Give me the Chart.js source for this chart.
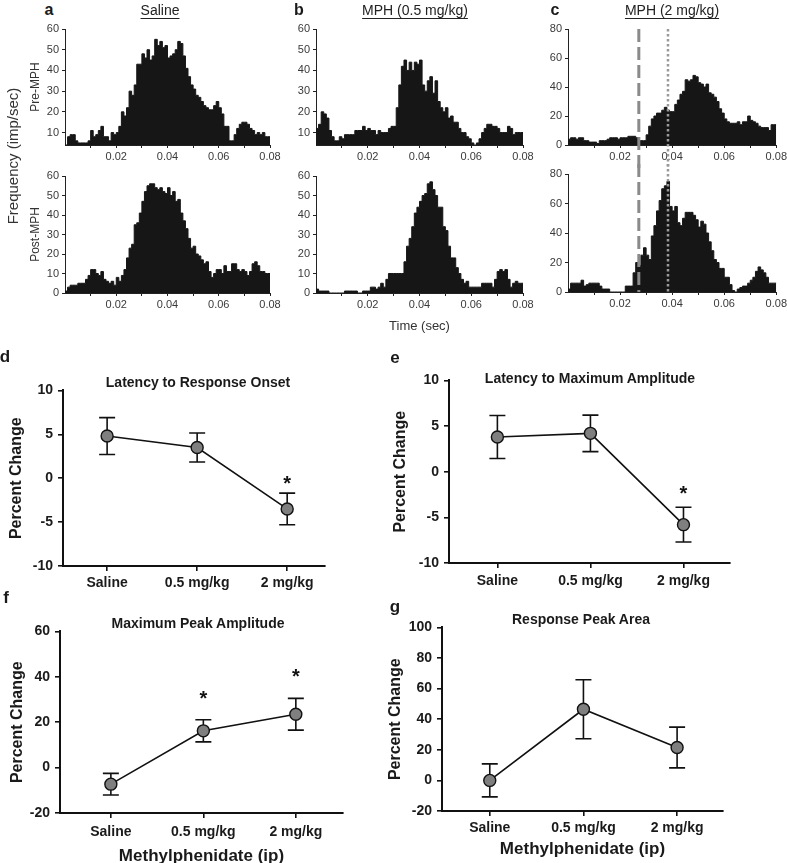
<!DOCTYPE html>
<html>
<head>
<meta charset="utf-8">
<script src="https://cdn.jsdelivr.net/npm/chart.js@4.4.1/dist/chart.umd.min.js"></script>
<style>
  html, body { margin: 0; padding: 0; background: #fff; overflow: hidden; width: 787px; height: 863px; }
  body { position: relative; font-family: 'Liberation Sans', Arial, sans-serif; }
  canvas { position: absolute; }
  .t { position: absolute; white-space: nowrap; line-height: 1; transform: translate(-50%, -50%); }
  .letter { font-weight: bold; font-size: 16px; color: #1a1a1a; }
  .head { font-size: 14px; color: #222; text-decoration: underline; text-underline-offset: 3px; }
  .ptitle { font-weight: bold; font-size: 14px; color: #1a1a1a; }
</style>
</head>
<body>

<canvas id="aPre" width="284" height="150" style="left:0px;top:19px"></canvas>
<canvas id="aPost" width="284" height="151" style="left:0px;top:166px"></canvas>
<canvas id="bPre" width="261" height="150" style="left:276px;top:19px"></canvas>
<canvas id="bPost" width="261" height="169" style="left:276px;top:166px"></canvas>
<canvas id="cPre" width="261" height="150" style="left:528px;top:19px"></canvas>
<canvas id="cPost" width="261" height="152" style="left:528px;top:164px"></canvas>

<canvas id="dChart" width="335" height="219" style="left:0px;top:377px"></canvas>
<canvas id="eChart" width="350" height="226" style="left:390px;top:367px"></canvas>
<canvas id="fChart" width="353" height="252" style="left:0px;top:618px"></canvas>
<canvas id="gChart" width="353" height="249" style="left:380px;top:614px"></canvas>

<div class="t letter" style="left:49px;top:10px">a</div>
<div class="t head" style="left:160px;top:10px">Saline</div>
<div class="t letter" style="left:299px;top:10px">b</div>
<div class="t head" style="left:415px;top:10px">MPH (0.5 mg/kg)</div>
<div class="t letter" style="left:555px;top:10px">c</div>
<div class="t head" style="left:672px;top:10px">MPH (2 mg/kg)</div>
<div class="t" style="left:12px;top:156px;font-size:15px;color:#333;transform:translate(-50%,-50%) rotate(-90deg)">Frequency (imp/sec)</div>

<div class="t letter" style="left:5px;top:356px;font-size:17px">d</div>
<div class="t ptitle" style="left:198px;top:382px">Latency to Response Onset</div>
<div class="t letter" style="left:395px;top:357px;font-size:17px">e</div>
<div class="t ptitle" style="left:590px;top:378px">Latency to Maximum Amplitude</div>
<div class="t letter" style="left:6px;top:597px;font-size:17px">f</div>
<div class="t ptitle" style="left:198px;top:623px">Maximum Peak Amplitude</div>
<div class="t letter" style="left:395px;top:606px;font-size:17px">g</div>
<div class="t ptitle" style="left:581px;top:619px">Response Peak Area</div>

<script>
// PSTH bins, 1 ms each, 0 - 80 ms (imp/sec)
const binWidth = 0.001;
const preSaline = [5,4,8,9,9,6,5,5,5,5, 6,11,8,9,11,13,8,8,6,10, 9,10,13,20,18,22,30,28,33,43,
  43,48,46,50,45,47,55,52,54,51, 52,46,47,48,50,54,53,47,41,37, 33,31,28,27,25,23,22,21,21,23,
  25,22,19,13,13,6,6,9,12,14, 15,15,14,12,11,9,10,9,10,8];
const postSaline = [0,1,3,4,4,4,5,5,5,7, 9,12,12,10,9,11,7,6,5,6, 4,8,6,9,12,18,23,25,35,36,
  41,47,52,55,56,56,54,53,54,52, 51,54,50,52,47,48,41,37,33,28, 23,24,20,19,17,15,16,11,8,10,
  12,12,10,14,11,11,15,15,12,11, 12,11,9,11,15,16,14,11,11,10];
const preMph05 = [8,12,14,20,19,17,11,8,6,6, 8,7,9,9,9,9,11,11,11,13, 11,12,11,11,9,11,10,10,10,12,
  13,13,22,33,42,45,40,44,40,44, 43,45,33,30,35,37,29,35,25,22, 20,22,17,18,15,15,12,10,10,8,
  7,5,4,5,7,10,12,14,14,13, 13,12,10,10,10,13,12,9,10,10];
const postMph05 = [2,2,1,1,1,1,0,0,0,0, 0,0,1,1,1,1,1,0,0,1, 1,1,3,3,2,3,5,3,7,10,
  10,10,10,10,10,16,24,28,34,41, 44,47,50,51,56,57,53,50,44,44, 34,32,24,18,18,13,10,7,5,6,
  3,3,3,3,3,5,5,5,5,3, 7,11,12,11,12,7,3,5,6,5];
const preMph2 = [4,4,5,5,4,5,5,3,3,2, 2,2,1,3,3,3,4,5,5,5, 4,5,5,5,6,6,6,5,3,3,
  3,7,13,18,20,22,22,24,26,24, 23,23,28,31,35,37,45,44,45,48, 47,43,42,40,42,36,35,33,30,25,
  22,18,16,15,15,15,16,14,16,16, 20,17,16,15,13,12,12,12,10,14];
const postMph2 = [4,2,6,6,6,6,8,4,5,6, 6,6,6,4,2,2,2,0,0,0, 0,0,0,4,4,4,13,20,18,25,
  30,25,22,38,45,55,62,70,72,75, 58,55,58,47,45,50,54,54,54,52, 49,44,48,46,40,34,28,22,20,16,
  16,10,10,5,1,0,2,3,4,4, 6,8,10,14,17,15,13,10,6,6];

// response onset (dashed) and peak (dotted) latency, sec
const latencyMarks = [0.0272, 0.0384];

const timeTicks = [0.01, 0.02, 0.03, 0.04, 0.05, 0.06, 0.07, 0.08];
const timeTickLabels = ['', '0.02', '', '0.04', '', '0.06', '', '0.08'];
const preTicks = [10, 20, 30, 40, 50, 60];
const postTicks = [0, 10, 20, 30, 40, 50, 60];
const highTicks = [0, 20, 40, 60, 80];

// dose response, percent change (mean, sem)
const doses = ['Saline', '0.5 mg/kg', '2 mg/kg'];
const onsetMean = [4.8, 3.5, -3.5];
const onsetErr = [2.1, 1.65, 1.8];
const onsetSig = [false, false, true];
const maxLatMean = [3.8, 4.2, -5.8];
const maxLatErr = [2.35, 2.0, 1.9];
const maxLatSig = [false, false, true];
const peakAmpMean = [-7.3, 16.2, 23.5];
const peakAmpErr = [4.75, 4.85, 7.0];
const peakAmpSig = [false, true, true];
const peakAreaMean = [0, 46.5, 21.5];
const peakAreaErr = [10.8, 19.3, 13.3];
const peakAreaSig = [false, false, false];
const onsetTicks = [-10, -5, 0, 5, 10];
const ampTicks = [-20, 0, 20, 40, 60];
const areaTicks = [-20, 0, 20, 40, 60, 80, 100];

Chart.defaults.font.family = "'Liberation Sans', Arial, sans-serif";
const barColor = '#161616';
const histText = '#3a3a3a';
const darkText = '#1a1a1a';

function histPoints(vals) {
  const pts = vals.map((v, i) => ({ x: i * binWidth, y: v }));
  pts.push({ x: vals.length * binWidth, y: vals[vals.length - 1] });
  return pts;
}

function latencyLines(span) {
  return {
    id: 'latencyLines',
    afterDatasetsDraw(chart) {
      const { ctx, chartArea, scales: { x } } = chart;
      const top = span === 'down' ? chartArea.top : 0;
      const bottom = span === 'down' ? chart.height : chartArea.bottom;
      ctx.save();
      latencyMarks.forEach((t, i) => {
        const px = x.getPixelForValue(t);
        ctx.beginPath();
        if (i === 0) { ctx.strokeStyle = '#8a8a8a'; ctx.lineWidth = 3; ctx.setLineDash([13, 5]); }
        else { ctx.strokeStyle = '#9a9a9a'; ctx.lineWidth = 2.5; ctx.setLineDash([2.5, 2.5]); }
        ctx.moveTo(px, top);
        ctx.lineTo(px, bottom);
        ctx.stroke();
      });
      ctx.restore();
    }
  };
}

function makeHist(id, values, cfg) {
  const plugins = cfg.lines ? [latencyLines(cfg.lines)] : [];
  return new Chart(document.getElementById(id), {
    type: 'line',
    data: {
      datasets: [{
        data: histPoints(values), stepped: 'after', fill: 'origin',
        backgroundColor: barColor, borderColor: barColor, borderWidth: 1, pointRadius: 0
      }]
    },
    options: {
      responsive: false, animation: false, events: [],
      layout: { padding: { top: 10, right: cfg.padRight || 14, left: 0, bottom: 0 } },
      plugins: { legend: { display: false }, tooltip: { enabled: false } },
      scales: {
        x: {
          type: 'linear', min: 0, max: 0.08,
          afterBuildTicks: s => { s.ticks = timeTicks.map(v => ({ value: v })); },
          ticks: { autoSkip: false, maxRotation: 0, padding: 2, color: histText, font: { size: 11 },
            callback: (v, i) => timeTickLabels[i] },
          grid: { drawOnChartArea: false, tickLength: 3, color: '#222' },
          border: { color: '#222', width: 1 },
          title: cfg.xTitle
            ? { display: true, text: cfg.xTitle, color: '#333', font: { size: 13 }, padding: { top: 0, bottom: 1 } }
            : { display: false },
          afterFit: s => { s.height = cfg.H; }
        },
        y: {
          min: cfg.yMin, max: cfg.yMax,
          afterBuildTicks: s => { s.ticks = cfg.yTicks.map(v => ({ value: v })); },
          ticks: { padding: 3, color: histText, font: { size: 11 } },
          grid: { drawOnChartArea: false, tickLength: 3, color: '#222' },
          border: { color: '#222', width: 1 },
          title: cfg.yTitle
            ? { display: true, text: cfg.yTitle, color: '#333', font: { size: 12 }, padding: { top: 28, bottom: 0 } }
            : { display: false },
          afterFit: s => { s.width = cfg.W; }
        }
      }
    },
    plugins
  });
}

makeHist('aPre', preSaline, { yMin: 4, yMax: 60, yTicks: preTicks, W: 65, H: 24, yTitle: 'Pre-MPH' });
makeHist('aPost', postSaline, { yMin: 0, yMax: 60, yTicks: postTicks, W: 65, H: 24, yTitle: 'Post-MPH' });
makeHist('bPre', preMph05, { yMin: 4, yMax: 60, yTicks: preTicks, W: 40, H: 24 });
makeHist('bPost', postMph05, { yMin: 0, yMax: 60, yTicks: postTicks, W: 40, H: 42, xTitle: 'Time (sec)' });
makeHist('cPre', preMph2, { yMin: 0, yMax: 80, yTicks: highTicks, W: 40, H: 24, padRight: 12, lines: 'down' });
makeHist('cPost', postMph2, { yMin: 0, yMax: 80, yTicks: highTicks, W: 40, H: 24, padRight: 12, lines: 'up' });

const errorBars = {
  id: 'errorBars',
  beforeDatasetsDraw(chart) {
    const { ctx, scales: { y } } = chart;
    const ds = chart.data.datasets[0];
    const meta = chart.getDatasetMeta(0);
    ctx.save();
    ctx.strokeStyle = '#111';
    ctx.lineWidth = 1.6;
    ctx.fillStyle = '#111';
    ctx.font = "bold 20px 'Liberation Sans', Arial, sans-serif";
    ctx.textAlign = 'center';
    ctx.textBaseline = 'alphabetic';
    meta.data.forEach((pt, i) => {
      const m = ds.data[i].y, e = ds.errors[i];
      const top = y.getPixelForValue(m + e), bot = y.getPixelForValue(m - e);
      ctx.beginPath();
      ctx.moveTo(pt.x, top); ctx.lineTo(pt.x, bot);
      ctx.moveTo(pt.x - 8, top); ctx.lineTo(pt.x + 8, top);
      ctx.moveTo(pt.x - 8, bot); ctx.lineTo(pt.x + 8, bot);
      ctx.stroke();
      if (ds.sig[i]) ctx.fillText('*', pt.x, top - ds.starGap);
    });
    ctx.restore();
  }
};

function makeDose(id, means, errs, sig, cfg) {
  return new Chart(document.getElementById(id), {
    type: 'line',
    data: {
      datasets: [{
        data: means.map((m, i) => ({ x: i, y: m })), errors: errs, sig: sig, starGap: cfg.starGap,
        borderColor: '#111', borderWidth: 1.6, tension: 0,
        pointRadius: 6, pointBackgroundColor: '#7f7f7f', pointBorderColor: '#111', pointBorderWidth: 1.4
      }]
    },
    options: {
      responsive: false, animation: false, events: [],
      layout: { padding: { top: 10, right: 10, left: 0, bottom: 0 } },
      plugins: { legend: { display: false }, tooltip: { enabled: false } },
      scales: {
        x: {
          type: 'linear', min: cfg.xRange[0], max: cfg.xRange[1],
          afterBuildTicks: s => { s.ticks = doses.map((d, i) => ({ value: i })); },
          ticks: { color: darkText, font: { size: 14, weight: 'bold' }, padding: cfg.xPad, maxRotation: 0,
            autoSkip: false, callback: (v, i) => doses[i] },
          grid: { drawOnChartArea: false, tickLength: 5, color: '#111', lineWidth: 1.6 },
          border: { color: '#111', width: 2 },
          title: cfg.xTitle
            ? { display: true, text: cfg.xTitle, color: darkText, font: { size: 17, weight: 'bold' }, padding: { top: 0, bottom: 3 } }
            : { display: false },
          afterFit: s => { s.height = cfg.H; }
        },
        y: {
          min: cfg.yTicks[0], max: cfg.yTicks[cfg.yTicks.length - 1],
          afterBuildTicks: s => { s.ticks = cfg.yTicks.map(v => ({ value: v })); },
          ticks: { color: darkText, font: { size: 14, weight: 'bold' }, padding: 5 },
          grid: { drawOnChartArea: false, tickLength: 5, color: '#111', lineWidth: 1.6 },
          border: { color: '#111', width: 2 },
          title: { display: true, text: 'Percent Change', color: darkText, font: { size: 16, weight: 'bold' },
            padding: { top: cfg.yTitlePad, bottom: 0 } },
          afterFit: s => { s.width = cfg.W; }
        }
      }
    },
    plugins: [errorBars]
  });
}

makeDose('dChart', onsetMean, onsetErr, onsetSig, { xRange: [-0.49, 2.42], yTicks: onsetTicks, W: 63, H: 30, xPad: 4, yTitlePad: 7, starGap: 3 });
makeDose('eChart', maxLatMean, maxLatErr, maxLatSig, { xRange: [-0.52, 2.5], yTicks: onsetTicks, W: 59, H: 30, xPad: 5, yTitlePad: 1, starGap: 7 });
makeDose('fChart', peakAmpMean, peakAmpErr, peakAmpSig, { xRange: [-0.55, 2.51], yTicks: ampTicks, W: 60, H: 57, xPad: 6, yTitlePad: 8, starGap: 15, xTitle: 'Methylphenidate (ip)' });
makeDose('gChart', peakAreaMean, peakAreaErr, peakAreaSig, { xRange: [-0.51, 2.49], yTicks: areaTicks, W: 62, H: 52, xPad: 4, yTitlePad: 6, starGap: 10, xTitle: 'Methylphenidate (ip)' });
</script>
</body>
</html>
